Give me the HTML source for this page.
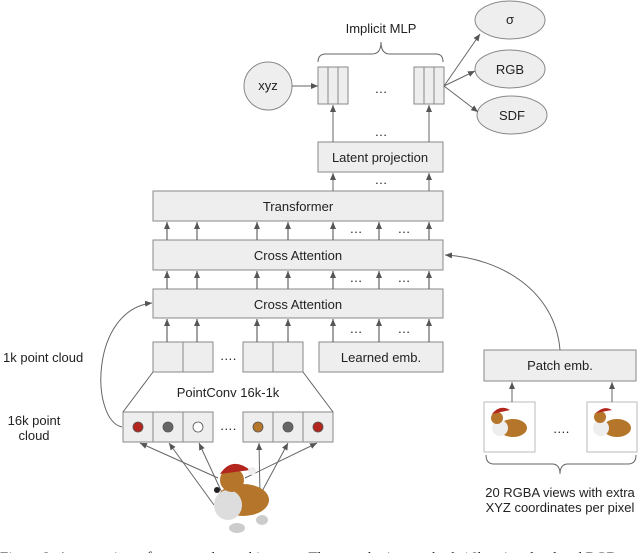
<!DOCTYPE html>
<html><head><meta charset="utf-8"><style>
html,body{margin:0;padding:0;background:#fff;width:640px;height:553px;overflow:hidden}
svg{display:block}
text{font-family:"Liberation Sans",Arial,sans-serif;fill:#222}
</style></head><body>
<svg width="640" height="553" viewBox="0 0 640 553" xmlns="http://www.w3.org/2000/svg">
<defs>
<marker id="a" markerWidth="8" markerHeight="8" refX="7" refY="4" orient="auto" markerUnits="userSpaceOnUse">
<path d="M0,1 L7,4 L0,7 z" fill="#555"/></marker>
</defs>
<g stroke="#888" stroke-width="1" fill="#eee">
<circle cx="268" cy="86" r="24"/>
<rect x="318" y="67" width="30" height="37"/>
<line x1="328" y1="67" x2="328" y2="104"/><line x1="338" y1="67" x2="338" y2="104"/>
<rect x="414" y="67" width="30" height="37"/>
<line x1="424" y1="67" x2="424" y2="104"/><line x1="434" y1="67" x2="434" y2="104"/>
<ellipse cx="510" cy="20" rx="35" ry="19"/>
<ellipse cx="510" cy="69" rx="35" ry="19"/>
<ellipse cx="512" cy="115" rx="35" ry="19"/>
<rect x="318" y="142" width="125" height="30"/>
<rect x="153" y="191" width="290" height="30"/>
<rect x="153" y="240" width="290" height="30"/>
<rect x="153" y="289" width="290" height="29"/>
<rect x="153" y="342" width="30" height="30"/><rect x="183" y="342" width="30" height="30"/>
<rect x="243" y="342" width="30" height="30"/><rect x="273" y="342" width="30" height="30"/>
<rect x="319" y="342" width="124" height="30"/>
<rect x="123" y="412" width="30" height="30"/><rect x="153" y="412" width="30" height="30"/><rect x="183" y="412" width="30" height="30"/>
<rect x="243" y="412" width="30" height="30"/><rect x="273" y="412" width="30" height="30"/><rect x="303" y="412" width="30" height="30"/>
<rect x="484" y="350" width="152" height="31"/>
</g>
<g stroke="#bbb" fill="#fff"><rect x="484" y="402" width="51" height="50"/><rect x="587" y="402" width="50" height="50"/></g>
<g stroke="#555" stroke-width="0.8">
<circle cx="138" cy="427" r="5" fill="#b3261e"/>
<circle cx="168" cy="427" r="5" fill="#666"/>
<circle cx="198" cy="427" r="5" fill="#fff"/>
<circle cx="258" cy="427" r="5" fill="#b5752a"/>
<circle cx="288" cy="427" r="5" fill="#666"/>
<circle cx="318" cy="427" r="5" fill="#b3261e"/>
</g>
<g stroke="#666" stroke-width="1" fill="none">
<line x1="292" y1="86" x2="318" y2="86" marker-end="url(#a)"/>
<line x1="444" y1="86" x2="480" y2="34" marker-end="url(#a)"/>
<line x1="444" y1="86" x2="475" y2="71" marker-end="url(#a)"/>
<line x1="444" y1="86" x2="478" y2="112" marker-end="url(#a)"/>
<line x1="333" y1="142" x2="333" y2="105" marker-end="url(#a)"/>
<line x1="429" y1="142" x2="429" y2="105" marker-end="url(#a)"/>
<line x1="333" y1="191" x2="333" y2="173" marker-end="url(#a)"/>
<line x1="429" y1="191" x2="429" y2="173" marker-end="url(#a)"/>
<path d="M318,62 Q318,54 326,54 L372,54 Q381,54 381,42 Q381,54 390,54 L436,54 Q443,54 443,62"/>
<path d="M486,455 Q486,464 494,464 L552,464 Q560,464 560,474 Q560,464 568,464 L628,464 Q636,464 636,455"/>
<path d="M560,350 C555,290 500,258 445,255" marker-end="url(#a)"/>
<path d="M122,427 C90,420 90,310 152,303" marker-end="url(#a)"/>
<line x1="153" y1="372" x2="123" y2="412"/>
<line x1="303" y1="372" x2="333" y2="412"/>
<line x1="512" y1="402" x2="512" y2="382" marker-end="url(#a)"/>
<line x1="612" y1="402" x2="612" y2="382" marker-end="url(#a)"/>
<line x1="218" y1="478" x2="140" y2="443" marker-end="url(#a)"/>
<line x1="214" y1="505" x2="169" y2="443" marker-end="url(#a)"/>
<line x1="230" y1="510" x2="199" y2="443" marker-end="url(#a)"/>
<line x1="260" y1="495" x2="259" y2="443" marker-end="url(#a)"/>
<line x1="252" y1="510" x2="288" y2="443" marker-end="url(#a)"/>
<line x1="245" y1="478" x2="317" y2="443" marker-end="url(#a)"/>
</g>
<g stroke="#666" stroke-width="1.2" marker-end="url(#a)">
<line x1="167" y1="240" x2="167" y2="222"/><line x1="197" y1="240" x2="197" y2="222"/><line x1="257" y1="240" x2="257" y2="222"/><line x1="288" y1="240" x2="288" y2="222"/><line x1="333" y1="240" x2="333" y2="222"/><line x1="379" y1="240" x2="379" y2="222"/><line x1="429" y1="240" x2="429" y2="222"/>
<line x1="167" y1="289" x2="167" y2="271"/><line x1="197" y1="289" x2="197" y2="271"/><line x1="257" y1="289" x2="257" y2="271"/><line x1="288" y1="289" x2="288" y2="271"/><line x1="333" y1="289" x2="333" y2="271"/><line x1="379" y1="289" x2="379" y2="271"/><line x1="429" y1="289" x2="429" y2="271"/>
<line x1="167" y1="342" x2="167" y2="319"/><line x1="197" y1="342" x2="197" y2="319"/><line x1="257" y1="342" x2="257" y2="319"/><line x1="288" y1="342" x2="288" y2="319"/><line x1="333" y1="342" x2="333" y2="319"/><line x1="379" y1="342" x2="379" y2="319"/><line x1="429" y1="342" x2="429" y2="319"/>
</g>
<g>
<ellipse cx="243" cy="500" rx="26" ry="16" fill="#b5752a"/>
<ellipse cx="228" cy="505" rx="14" ry="15" fill="#ddd"/>
<ellipse cx="232" cy="480" rx="12" ry="12" fill="#b5752a"/>
<path d="M220,474 Q232,456 250,470 Z" fill="#b3261e"/>
<circle cx="252" cy="471" r="4" fill="#eee"/>
<circle cx="217" cy="490" r="3" fill="#222"/>
<ellipse cx="237" cy="528" rx="8" ry="5" fill="#ccc"/>
<ellipse cx="262" cy="520" rx="6" ry="5" fill="#ccc"/>
</g>
<g>
<ellipse cx="513" cy="428" rx="14" ry="9" fill="#b5752a"/><circle cx="500" cy="428" r="8" fill="#eee"/><circle cx="497" cy="418" r="6" fill="#b5752a"/><path d="M492,414 Q500,404 510,410 Z" fill="#b3261e"/>
<ellipse cx="617" cy="428" rx="14" ry="9" fill="#b5752a"/><circle cx="601" cy="428" r="8" fill="#eee"/><circle cx="600" cy="417" r="6" fill="#b5752a"/><path d="M596,413 Q604,405 612,410 Z" fill="#b3261e"/>
</g>
<g font-size="13" text-anchor="middle">
<text x="381" y="33">Implicit MLP</text>
<text x="268" y="90">xyz</text>
<text x="381" y="93">…</text>
<text x="510" y="24">σ</text>
<text x="510" y="74">RGB</text>
<text x="512" y="120">SDF</text>
<text x="381" y="136">…</text>
<text x="380" y="162">Latent projection</text>
<text x="381" y="184">…</text>
<text x="298" y="211">Transformer</text>
<text x="298" y="260">Cross Attention</text>
<text x="298" y="309">Cross Attention</text>
<text x="356" y="233">…</text><text x="404" y="233">…</text>
<text x="356" y="282">…</text><text x="404" y="282">…</text>
<text x="356" y="333">…</text><text x="404" y="333">…</text>
<text x="228" y="360">….</text>
<text x="381" y="362">Learned emb.</text>
<text x="228" y="397">PointConv 16k-1k</text>
<text x="228" y="430">….</text>
<text x="560" y="370">Patch emb.</text>
<text x="561" y="433">….</text>
<text x="560" y="497">20 RGBA views with extra</text>
<text x="560" y="512">XYZ coordinates per pixel</text>
<text x="34" y="425">16k point</text>
<text x="34" y="440">cloud</text>
</g>
<text x="3" y="362" font-size="13">1k point cloud</text>
<text x="0" y="562" font-size="15" style="font-family:'Liberation Serif',serif">Figure 2: An overview of our encoder architecture. The encoder ingests both 16k point cloud and RGB</text>
</svg>
</body></html>
